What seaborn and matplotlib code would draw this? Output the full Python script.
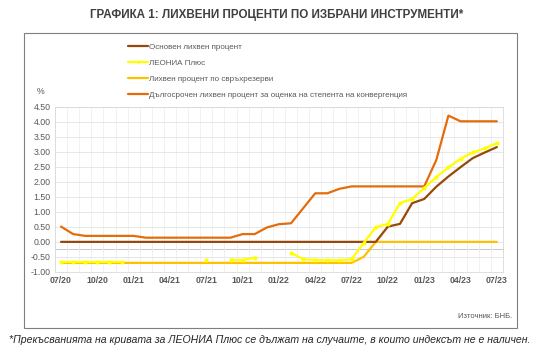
import numpy as np
import pandas as pd
import matplotlib
matplotlib.use("Agg")
import matplotlib.pyplot as plt
import seaborn as sns
from matplotlib.patches import Rectangle
from matplotlib.lines import Line2D

# months 07/20 .. 07/23
months = pd.period_range("2020-07", "2023-07", freq="M")
month_labels = [m.strftime("%m/%y") for m in months]

base_rate = [0.0] * 27 + [0.51, 0.60, 1.29, 1.43, 1.84, 2.18, 2.49, 2.79, 2.98, 3.16]

excess_rate = [-0.70] * 25 + [-0.50] + [0.0] * 11

nan = np.nan
leonia = ([-0.66] * 6 + [nan] * 6 + [-0.60, nan, -0.60, -0.60, -0.53, nan, nan]
          + [-0.36, -0.58, -0.60, -0.61, -0.61, -0.58, -0.04, 0.49, 0.60, 1.29, 1.43,
             1.79, 2.16, 2.48, 2.77, 2.98, 3.12, 3.29])

longterm = [0.51, 0.26, 0.20, 0.20, 0.20, 0.20, 0.20, 0.14, 0.14, 0.14, 0.14, 0.14,
            0.14, 0.14, 0.14, 0.26, 0.26, 0.48, 0.59, 0.62, 1.12, 1.62, 1.62, 1.77,
            1.85, 1.85, 1.85, 1.85, 1.85, 1.85, 1.85, 2.73, 4.21, 4.02, 4.02, 4.02, 4.02]

names = ["Основен лихвен процент", "ЛЕОНИА Плюс", "Лихвен процент по свръхрезерви",
         "Дългосрочен лихвен процент за оценка на степента на конвергенция"]
colors = ["#984807", "#FFFF00", "#FFC000", "#E46C0A"]

idx = np.arange(len(months))
df = pd.DataFrame({"i": idx, "base": base_rate, "excess": excess_rate,
                   "leonia": leonia, "long": longterm})
# segments for the gaps in LEONIA
df["seg"] = df["leonia"].isna().cumsum()

sns.set_theme(style="white")
plt.rcParams["font.family"] = ["Liberation Sans", "DejaVu Sans"]

fig = plt.figure(figsize=(5.39, 3.54), dpi=100)
ax = fig.add_axes([0.102, 0.232, 0.831, 0.466])

lw = 1.6
sns.lineplot(data=df, x="i", y="long", color=colors[3], lw=lw, ax=ax)
sns.lineplot(data=df, x="i", y="excess", color=colors[2], lw=lw, ax=ax)
sns.lineplot(data=df, x="i", y="base", color=colors[0], lw=lw, ax=ax)
sns.lineplot(data=df.dropna(subset=["leonia"]), x="i", y="leonia", units="seg",
             estimator=None, color=colors[1], lw=lw, marker="o", ms=3,
             markeredgewidth=0, ax=ax)

ax.set_xlim(-0.5, 36.5)
ax.set_ylim(-1.0, 4.5)
ax.set_yticks(np.arange(-1.0, 4.51, 0.5))
ax.set_yticklabels([f"{v:.2f}" for v in np.arange(-1.0, 4.51, 0.5)])
ax.set_xticks(idx[::3])
ax.set_xticklabels(month_labels[::3], fontweight="bold")
ax.set_xticks(np.arange(-0.5, 37, 1), minor=True)
ax.tick_params(axis="both", length=0, labelsize=6.3, colors="#595959", pad=3)
ax.tick_params(axis="x", which="minor", length=0)
ax.set_xlabel("")
ax.set_ylabel("")
ax.grid(axis="y", which="major", color="#E3E3E3", lw=0.6)
ax.grid(axis="x", which="minor", color="#EFEFEF", lw=0.6)
ax.set_axisbelow(True)
for s in ax.spines.values():
    s.set_color("#D9D9D9")
    s.set_linewidth(0.6)

# category axis line crossing the plot
secax = ax.secondary_xaxis((-0.23 + 1.0) / 5.5)
secax.set_xticks(np.arange(-0.5, 37, 1))
secax.set_xticklabels([])
secax.tick_params(direction="inout", length=4, width=0.6, colors="#BFBFBF")
secax.spines["bottom"].set_color("#BFBFBF")
secax.spines["bottom"].set_linewidth(0.6)

handles = [Line2D([], [], color=colors[0], lw=lw),
           Line2D([], [], color=colors[1], lw=lw, marker="o", ms=2, markeredgewidth=0),
           Line2D([], [], color=colors[2], lw=lw),
           Line2D([], [], color=colors[3], lw=lw)]
fig.legend(handles, names, loc="upper left", bbox_to_anchor=(128 / 539, 1 - 43 / 354),
           frameon=False, fontsize=5.8, handlelength=2.5, handletextpad=0.15,
           labelspacing=1.05, borderpad=0, borderaxespad=0, labelcolor="#595959")

fig.text(41 / 539, 1 - 91 / 354, "%", fontsize=6.3, color="#595959", ha="center", va="center")

fig.text(277 / 539, 1 - 15 / 354, "ГРАФИКА 1: ЛИХВЕНИ ПРОЦЕНТИ ПО ИЗБРАНИ ИНСТРУМЕНТИ*",
         fontsize=8.4, fontweight="bold", color="#404040", ha="center", va="center")

fig.patches.append(Rectangle((24 / 539, 1 - 328 / 354), (517 - 24) / 539, (328 - 33) / 354,
                             transform=fig.transFigure, fill=False, edgecolor="#7F7F7F", lw=0.8))

fig.text(512 / 539, 1 - 316 / 354, "Източник: БНБ.", fontsize=5.5, color="#595959",
         ha="right", va="center")
fig.text(270 / 539, 1 - 340 / 354,
         "*Прекъсванията на кривата за ЛЕОНИА Плюс се дължат на случаите, в които индексът не е наличен.",
         fontsize=7.6, style="italic", color="#262626", ha="center", va="center")

fig.savefig("out.png", dpi=100)
